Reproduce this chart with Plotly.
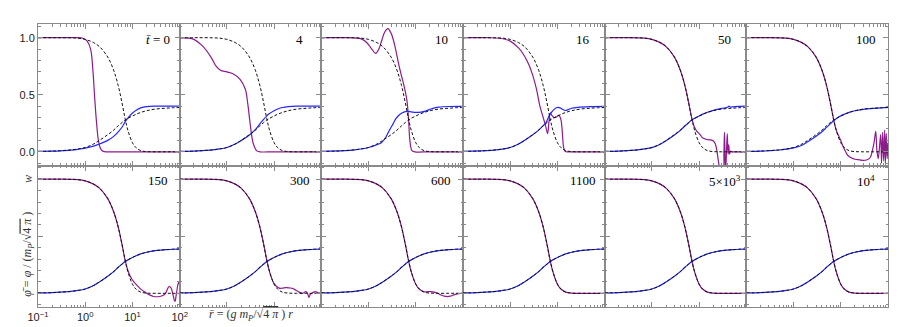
import plotly.graph_objects as go
from plotly.subplots import make_subplots

# static solution (dashed), shared by all panels
r = [0.1, 0.2, 0.3, 0.5, 0.7, 1, 1.5, 2, 3, 4, 5, 6, 7, 8, 10, 12, 15, 20, 30, 50, 70, 100]
w_static = [1.0, 1.0, 1.0, 0.999, 0.996, 0.985, 0.957, 0.922, 0.83, 0.715, 0.58, 0.43, 0.29, 0.19,
            0.08, 0.035, 0.01, 0.002, 0.0, 0.0, 0.0, 0.0]
phi_static = [0.003, 0.006, 0.01, 0.017, 0.025, 0.038, 0.068, 0.1, 0.15, 0.19, 0.228, 0.256, 0.278,
              0.293, 0.314, 0.329, 0.345, 0.36, 0.374, 0.382, 0.386, 0.388]

times = ["<i>t̄</i> = 0", "4", "10", "16", "50", "100",
         "150", "300", "600", "1100", "5×10<sup>3</sup>", "10<sup>4</sup>"]

# evolving w (purple)
r_w_t0 = [0.1, 0.3, 0.6, 0.9, 1.1, 1.3, 1.45, 1.6, 1.75, 1.9, 2.1, 2.4, 3, 10, 100]
w_t0 = [1.0, 1.0, 1.0, 0.995, 0.97, 0.9, 0.72, 0.45, 0.24, 0.1, 0.03, 0.004, 0.0, 0.0, 0.0]

r_w_t4 = [0.1, 0.15, 0.2, 0.3, 0.46, 0.58, 0.73, 1.0, 1.4, 1.9, 2.45, 2.77, 3.1, 3.6, 4.3, 5, 10, 100]
w_t4 = [1.0, 0.997, 0.985, 0.93, 0.83, 0.755, 0.715, 0.70, 0.68, 0.635, 0.55, 0.42, 0.25, 0.075,
        0.008, 0.0, 0.0, 0.0]

r_w_t10 = [0.1, 0.3, 0.5, 0.7, 0.9, 1.15, 1.41, 1.65, 1.9, 2.2, 2.57, 3.0, 3.54, 4.5, 5.74, 6.5,
           7.06, 7.5, 8.3, 9.5, 20, 100]
w_t10 = [1.0, 1.0, 0.998, 0.99, 0.96, 0.905, 0.862, 0.9, 0.975, 1.05, 1.08, 1.04, 0.942, 0.739,
         0.565, 0.449, 0.275, 0.1, 0.01, 0.0, 0.0, 0.0]

r_w_t16 = [0.1, 0.3, 0.6, 1.0, 1.5, 2.0, 2.5, 3.0, 3.6, 4.2, 5.0, 5.6, 6.2, 6.6, 7.1, 7.6, 8.5,
           9.5, 10.5, 11.2, 12, 12.8, 13.5, 14.5, 16, 30, 100]
w_t16 = [1.0, 1.0, 0.995, 0.97, 0.91, 0.84, 0.76, 0.67, 0.55, 0.41, 0.3, 0.23, 0.16, 0.26, 0.34,
         0.32, 0.30, 0.305, 0.32, 0.31, 0.27, 0.15, 0.04, 0.005, 0.0, 0.0, 0.0]

r_w_t50 = [0.1, 0.2, 0.3, 0.5, 0.7, 1, 1.5, 2, 3, 4, 5, 6, 7, 8, 9, 10, 11, 12, 14, 17, 20, 22, 24,
           26, 28, 32, 33.5, 34.5, 35.5, 36.5, 38, 39.5, 41, 42.5, 44, 46, 50, 70, 100]
w_t50 = [1.0, 1.0, 1.0, 0.999, 0.996, 0.985, 0.957, 0.922, 0.83, 0.715, 0.58, 0.43, 0.295, 0.215,
         0.18, 0.16, 0.14, 0.12, 0.11, 0.105, 0.095, 0.07, 0.0, -0.1, -0.16, -0.16, 0.0, 0.17, -0.05,
         -0.16, 0.0, 0.16, -0.02, 0.06, -0.02, 0.005, 0.0, 0.0, 0.0]

r_w_t100 = [0.1, 0.2, 0.3, 0.5, 0.7, 1, 1.5, 2, 3, 4, 5, 6, 7, 8, 9, 10, 11, 12, 14, 17, 20, 25, 30,
            36, 42, 47, 51, 55, 58, 62, 66, 70, 73, 77, 81, 85, 88, 92, 96, 100]
w_t100 = [1.0, 1.0, 1.0, 0.999, 0.996, 0.985, 0.957, 0.922, 0.83, 0.715, 0.58, 0.43, 0.29, 0.19,
          0.14, 0.1, 0.055, 0.02, -0.03, -0.055, -0.065, -0.07, -0.075, -0.07, -0.05, 0.015, 0.09,
          0.18, 0.02, -0.06, 0.04, 0.15, -0.1, 0.17, -0.08, 0.19, -0.1, 0.16, -0.06, 0.08]

r_w_t150 = [0.1, 0.2, 0.3, 0.5, 0.7, 1, 1.5, 2, 3, 4, 5, 6, 7, 8, 9, 10.5, 12.5, 14.4, 17, 20, 23,
            28, 32, 38, 44, 50, 55, 59, 63, 67, 71, 74, 77, 80, 84, 87, 90, 93, 96, 100]
w_t150 = [1.0, 1.0, 1.0, 0.999, 0.996, 0.985, 0.957, 0.922, 0.83, 0.715, 0.58, 0.43, 0.29, 0.2,
          0.15, 0.105, 0.07, 0.043, 0.02, 0.0, -0.014, -0.028, -0.03, -0.028, -0.02, 0.0, 0.035,
          0.058, 0.055, 0.04, 0.0, -0.03, -0.06, -0.07, -0.02, 0.02, 0.06, 0.087, 0.095, 0.07]

r_w_t300 = [0.1, 0.2, 0.3, 0.5, 0.7, 1, 1.5, 2, 3, 4, 5, 6, 7, 8, 10, 12.8, 15, 17.7, 21, 24.5, 28,
            31, 35, 40, 44, 47, 51, 54.6, 58, 63, 69, 75, 85, 95, 100]
w_t300 = [1.0, 1.0, 1.0, 0.999, 0.996, 0.985, 0.957, 0.922, 0.83, 0.715, 0.58, 0.43, 0.29, 0.19,
          0.085, 0.045, 0.045, 0.049, 0.047, 0.043, 0.03, 0.02, 0.008, 0.0, 0.01, 0.014, 0.0,
          -0.035, -0.01, 0.0, 0.01, 0.014, 0.005, 0.0, 0.005]

r_w_t600 = [0.1, 0.2, 0.3, 0.5, 0.7, 1, 1.5, 2, 3, 4, 5, 6, 7, 8, 10, 12, 15, 17.8, 21, 24.4, 29,
            34, 40, 46.5, 54, 63.5, 75, 87.6, 100]
w_t600 = [1.0, 1.0, 1.0, 0.999, 0.996, 0.985, 0.957, 0.922, 0.83, 0.715, 0.58, 0.43, 0.29, 0.19,
          0.08, 0.035, 0.014, 0.014, 0.014, 0.01, 0.0, -0.014, -0.025, -0.029, -0.025, -0.014,
          -0.005, 0.0, 0.0]

# evolving phi (blue)
phi_t0 = [0.003, 0.006, 0.009, 0.015, 0.022, 0.032, 0.05, 0.068, 0.1, 0.135, 0.175, 0.215, 0.262,
          0.295, 0.34, 0.365, 0.385, 0.396, 0.4, 0.4, 0.4, 0.4]
phi_t4 = [0.003, 0.006, 0.01, 0.017, 0.025, 0.038, 0.068, 0.098, 0.148, 0.195, 0.245, 0.285, 0.315,
          0.335, 0.36, 0.375, 0.388, 0.396, 0.4, 0.4, 0.4, 0.4]

r_p_t10 = [0.1, 0.3, 0.5, 1, 1.5, 1.87, 2.3, 2.76, 3.3, 3.8, 4.5, 5.2, 6.0, 6.7, 8, 10, 13, 16, 20,
           25, 31, 50, 100]
phi_t10 = [0.003, 0.01, 0.017, 0.038, 0.062, 0.08, 0.125, 0.188, 0.245, 0.29, 0.325, 0.342, 0.352,
           0.354, 0.35, 0.345, 0.348, 0.357, 0.372, 0.385, 0.392, 0.397, 0.398]

r_p_t16 = [0.1, 0.3, 0.5, 1, 1.5, 2, 3, 4, 5, 5.6, 6.2, 6.8, 7.6, 8.5, 9.8, 11.4, 13, 14.5, 17, 20,
           27, 50, 100]
phi_t16 = [0.003, 0.01, 0.017, 0.038, 0.068, 0.1, 0.15, 0.19, 0.23, 0.25, 0.285, 0.325, 0.35, 0.372,
           0.388, 0.385, 0.37, 0.362, 0.37, 0.382, 0.39, 0.396, 0.398]

r_p_t50 = [0.1, 0.2, 0.3, 0.5, 0.7, 1, 1.5, 2, 3, 4, 5, 6, 7, 8, 10, 12, 15, 20, 30, 40, 43, 46, 50,
           70, 100]
phi_t50 = [0.003, 0.006, 0.01, 0.017, 0.025, 0.037, 0.066, 0.097, 0.147, 0.188, 0.226, 0.255, 0.278,
           0.293, 0.314, 0.33, 0.347, 0.363, 0.38, 0.39, 0.4, 0.392, 0.394, 0.398, 0.4]

phi_t100 = [0.003, 0.006, 0.01, 0.016, 0.023, 0.034, 0.058, 0.088, 0.136, 0.176, 0.214, 0.245, 0.27,
            0.29, 0.315, 0.33, 0.346, 0.36, 0.372, 0.38, 0.385, 0.39]

w_r = [r_w_t0, r_w_t4, r_w_t10, r_w_t16, r_w_t50, r_w_t100,
       r_w_t150, r_w_t300, r_w_t600, r, r, r]
w_vals = [w_t0, w_t4, w_t10, w_t16, w_t50, w_t100,
          w_t150, w_t300, w_t600, w_static, w_static, w_static]
phi_r = [r, r, r_p_t10, r_p_t16, r_p_t50, r,
         r, r, r, r, r, r]
phi_vals = [phi_t0, phi_t4, phi_t10, phi_t16, phi_t50, phi_t100,
            phi_static, phi_static, phi_static, phi_static, phi_static, phi_static]

PURPLE = "#8e1a8e"
BLUE = "#2626ff"
FRAME = "#8a8a8a"
SERIF = "Liberation Serif, Times New Roman, serif"
SANS = "Liberation Sans, Arial, sans-serif"

fig = make_subplots(rows=2, cols=6, horizontal_spacing=0, vertical_spacing=0)

for i in range(12):
    row, col = i // 6 + 1, i % 6 + 1
    fig.add_trace(go.Scatter(x=w_r[i], y=w_vals[i], mode="lines", line_shape="spline",
                             line=dict(color=PURPLE, width=1.2)), row=row, col=col)
    fig.add_trace(go.Scatter(x=phi_r[i], y=phi_vals[i], mode="lines", line_shape="spline",
                             line=dict(color=BLUE, width=1.2)), row=row, col=col)
    fig.add_trace(go.Scatter(x=r, y=w_static, mode="lines", line_shape="spline",
                             line=dict(color="#111", width=1, dash="3px,2px")), row=row, col=col)
    fig.add_trace(go.Scatter(x=r, y=phi_static, mode="lines", line_shape="spline",
                             line=dict(color="#111", width=1, dash="3px,2px")), row=row, col=col)

    xref = "x domain" if i == 0 else f"x{i + 1} domain"
    yref = "y domain" if i == 0 else f"y{i + 1} domain"
    fig.add_annotation(text=times[i], xref=xref, yref=yref, x=0.848, y=1, yshift=-15,
                       xanchor="center", yanchor="middle", showarrow=False,
                       font=dict(family=SERIF, size=13, color="black"))

minor_x = [k * 10.0 ** e for e in (-1, 0, 1) for k in range(2, 10)]
minor_y = [-0.1, 0.1, 0.2, 0.3, 0.4, 0.6, 0.7, 0.8, 0.9, 1.1]

fig.update_xaxes(type="log", range=[-1, 2], showgrid=False, zeroline=False,
                 showline=True, linecolor=FRAME, linewidth=1, mirror="allticks",
                 ticks="inside", ticklen=5, tickcolor=FRAME, tickwidth=1,
                 tickmode="array", tickvals=[0.1, 1, 10, 100],
                 ticktext=["10<sup>−1</sup>", "10<sup>0</sup>", "10<sup>1</sup>", "10<sup>2</sup>"],
                 minor=dict(ticks="inside", ticklen=2.5, tickcolor=FRAME, tickmode="array",
                            tickvals=minor_x, showgrid=False),
                 showticklabels=False, tickfont=dict(family=SANS, size=11, color="#222"))
fig.update_yaxes(range=[-0.12, 1.12], showgrid=False, zeroline=False,
                 showline=True, linecolor=FRAME, linewidth=1, mirror="allticks",
                 ticks="inside", ticklen=5, tickcolor=FRAME, tickwidth=1,
                 tickmode="array", tickvals=[0, 0.5, 1], ticktext=["0.0", "0.5", "1.0"],
                 minor=dict(ticks="inside", ticklen=2.5, tickcolor=FRAME, tickmode="array",
                            tickvals=minor_y, showgrid=False),
                 showticklabels=False, tickfont=dict(family=SANS, size=11, color="#222"))
fig.update_xaxes(showticklabels=True, row=2, col=1)
fig.update_yaxes(showticklabels=True, row=1, col=1)

# axis labels
fig.add_annotation(text="<i>w</i>", xref="paper", yref="paper", x=-0.0116, y=0.453,
                   textangle=-90, showarrow=False, xanchor="center", yanchor="middle",
                   font=dict(family=SERIF, size=12, color="#333"))
fig.add_annotation(text="<i>φ̄</i> = <i>φ</i> / (<i>m<sub>P</sub></i>/√<span style='text-decoration:overline'>4 <i>π</i></span> )",
                   xref="paper", yref="paper", x=-0.0116, y=0.185, textangle=-90,
                   showarrow=False, xanchor="center", yanchor="middle",
                   font=dict(family=SERIF, size=12, color="#333"))
fig.add_annotation(text="<i>r̄</i> = (<i>g m<sub>P</sub></i>/√<span style='text-decoration:overline'>4 <i>π</i></span> ) <i>r</i>",
                   xref="paper", yref="paper", x=0.1988, y=-0.03,
                   showarrow=False, xanchor="left", yanchor="middle",
                   font=dict(family=SERIF, size=12, color="#333"))

fig.update_layout(width=900, height=327, showlegend=False,
                  margin=dict(l=27, r=13, t=16, b=24),
                  paper_bgcolor="white", plot_bgcolor="white")

fig.write_html("out.html")
